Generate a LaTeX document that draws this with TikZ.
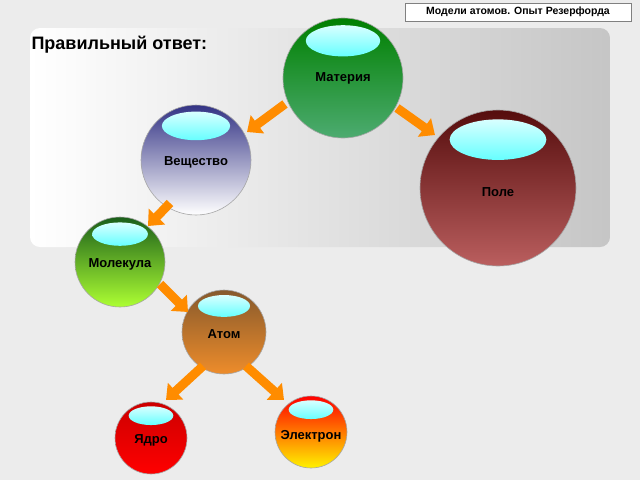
\documentclass[tikz,border=0pt]{standalone}
\usepackage{fontspec}
\setmainfont{Liberation Sans}
\usetikzlibrary{arrows.meta,shadings}
\begin{document}
\begin{tikzpicture}[x=1pt,y=-1pt,
  ball/.style={circle,minimum size=#1,inner sep=0pt},
  lbl/.style={font=\bfseries\fontsize{13}{15}\selectfont},
  arr/.style={line width=9pt,-{Triangle[width=22pt,length=13pt]},color=orange!90!yellow}]
\fill[gray!15] (0,0) rectangle (640,480);
\useasboundingbox (0,0) rectangle (640,480);
\shade[rounded corners=10pt,left color=white,right color=gray!45] (30,28) rectangle (610,247);
\node[draw=gray,fill=white,font=\bfseries\fontsize{10.5}{12}\selectfont,minimum width=226pt,minimum height=18pt,inner sep=1pt] (title) at (518,12) {Модели атомов. Опыт Резерфорда};
\node[anchor=west,font=\bfseries\fontsize{18}{20}\selectfont] (ans) at (28,45) {Правильный ответ:};
\newcommand{\ball}[7]{%
 \shade[top color=#5,bottom color=#6,draw=gray!70,line width=0.6pt] (#2,#3) circle (#4);
 \shade[top color=cyan!15!white,bottom color=cyan!60] (#2,#3-#4*0.62) ellipse (#4*0.62 and #4*0.26);
 \node[ball=#4*2pt] (#1) at (#2,#3) {};
 \node[lbl] (#1t) at (#2,#3+#7) {#1};}
\ball{Материя}{343}{78}{60}{green!50!black}{green!55!black!60!teal!70!white}{0}
\ball{Вещество}{196}{160}{55}{blue!40!black!80}{white}{2}
\ball{Поле}{498}{188}{78}{red!30!black!95}{red!40!gray!90}{4}
\ball{Молекула}{120}{262}{45}{green!30!black!90}{green!40!yellow!80}{2}
\ball{Атом}{224}{332}{42}{brown!70!black}{orange!70!brown!90}{2}
\ball{Ядро}{151}{438}{36}{red!80!black}{red}{2}
\ball{Электрон}{311}{432}{36}{red}{yellow!90!orange}{4}
\draw[arr] (285,104) -- (247,132);
\draw[arr] (397,108) -- (435,135);
\draw[arr] (170,203) -- (148,226);
\draw[arr] (160,284) -- (188,312);
\draw[arr] (203,366) -- (166,400);
\draw[arr] (246,366) -- (284,400);
\end{tikzpicture}
\end{document}
